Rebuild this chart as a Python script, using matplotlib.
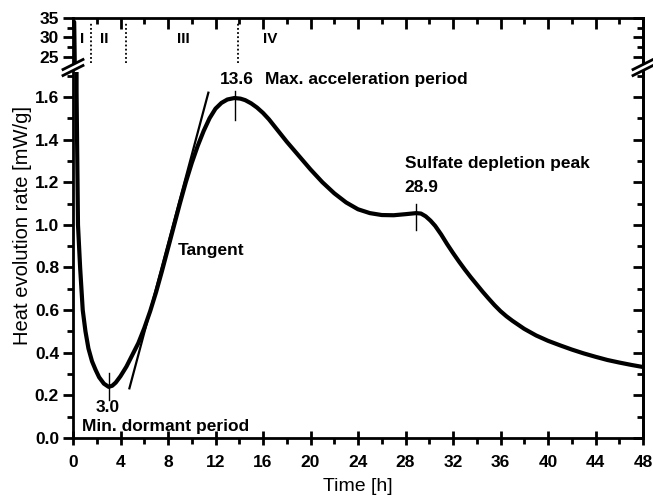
import matplotlib
matplotlib.use("Agg")
import matplotlib.pyplot as plt
from matplotlib.ticker import MultipleLocator
from matplotlib.lines import Line2D

plt.rcParams['font.family'] = ['Liberation Sans', 'DejaVu Sans']

# ---- data ----
time_h = [0.1, 0.2, 0.3, 0.42, 0.6, 0.82, 1.05, 1.3, 1.6, 1.9, 2.2, 2.6, 3.0, 3.3, 3.6,
          4.0, 4.5, 5.0, 5.5, 6.0, 6.5, 7.0, 7.5, 8.0, 8.5, 9.0, 9.5, 10.0, 10.5, 11.0,
          11.5, 12.0, 12.5, 13.0, 13.6, 14.1, 14.5, 15.0, 15.5, 16.0, 16.5, 17.0, 17.5,
          18.0, 19.0, 20.0, 21.0, 22.0, 23.0, 24.0, 25.0, 26.0, 27.0, 28.0, 28.9,
          29.3, 29.7, 30.1, 30.5, 31.0, 31.5, 32.0, 32.5, 33.0, 33.5, 34.0, 34.5,
          35.0, 35.5, 36.0, 36.5, 37.0, 38.0, 39.0, 40.0, 41.0, 42.0, 43.0, 44.0,
          45.0, 46.0, 47.0, 48.0]
heat = [34.0, 12.0, 1.62, 1.0, 0.80, 0.60, 0.50, 0.42, 0.36, 0.32, 0.285, 0.255, 0.24,
        0.245, 0.26, 0.29, 0.335, 0.39, 0.445, 0.515, 0.595, 0.685, 0.785, 0.89, 0.995,
        1.10, 1.20, 1.29, 1.37, 1.44, 1.50, 1.545, 1.572, 1.588, 1.595, 1.592, 1.585,
        1.57, 1.55, 1.525, 1.495, 1.46, 1.425, 1.39, 1.325, 1.26, 1.20, 1.148, 1.105,
        1.073, 1.055, 1.046, 1.045, 1.05, 1.055, 1.053, 1.04, 1.02, 0.995, 0.955, 0.91,
        0.868, 0.828, 0.79, 0.754, 0.72, 0.686, 0.654, 0.623, 0.595, 0.571, 0.55, 0.512,
        0.481, 0.456, 0.435, 0.415, 0.397, 0.381, 0.366, 0.354, 0.343, 0.333]

tangent_t = [4.75, 11.4]
tangent_v = [0.233, 1.62]

mark_t = [3.0, 13.6, 28.9]
mark_lo = [0.178, 1.49, 0.975]
mark_hi = [0.305, 1.63, 1.10]

period_bounds = [1.5, 4.45, 13.9]
period_labels = ['I', 'II', 'III', 'IV']
period_label_t = [0.73, 2.6, 9.3, 16.6]

lower_ylim = (0, 1.717)
upper_ylim = (23.46, 35)
xlim = (0, 48)

# ---- layout ----
W, H = 653, 498
fig = plt.figure(figsize=(W / 100, H / 100), dpi=100)
L, R = 73, 643
ax_top = fig.add_axes([L / W, 1 - 63 / H, (R - L) / W, (63 - 18) / H])
ax = fig.add_axes([L / W, 1 - 438 / H, (R - L) / W, (438 - 72) / H])

lw_sp = 2.0
tick_font = dict(fontsize=12.5, fontweight='bold')

for a in (ax, ax_top):
    a.plot(time_h, heat, color='black', lw=3.0, solid_joinstyle='round',
           solid_capstyle='round', zorder=3)
    a.set_xlim(*xlim)
    for s in a.spines.values():
        s.set_linewidth(lw_sp)
    a.xaxis.set_major_locator(MultipleLocator(4))
    a.xaxis.set_minor_locator(MultipleLocator(2))

ax.set_ylim(*lower_ylim)
ax_top.set_ylim(*upper_ylim)
ax.spines['top'].set_visible(False)
ax_top.spines['bottom'].set_visible(False)

# lower axis ticks
ax.yaxis.set_major_locator(MultipleLocator(0.2))
ax.yaxis.set_minor_locator(MultipleLocator(0.1))
ax.tick_params(axis='x', which='major', direction='inout', length=10, width=2,
               top=False, pad=7)
ax.tick_params(axis='x', which='minor', direction='out', length=4, width=2, top=False)
ax.tick_params(axis='y', which='major', direction='out', length=7, width=2,
               right=False, pad=3)
ax.tick_params(axis='y', which='minor', direction='out', length=4, width=2, right=False)
ax.set_xticks(range(0, 49, 4))
ax.set_xticklabels([str(v) for v in range(0, 49, 4)], **tick_font)
ax.set_yticks([round(0.2 * i, 1) for i in range(9)])
ax.set_yticklabels([f"{0.2 * i:.1f}" for i in range(9)], **tick_font)

sec = ax.secondary_yaxis('right')
sec.yaxis.set_major_locator(MultipleLocator(0.2))
sec.yaxis.set_minor_locator(MultipleLocator(0.1))
sec.tick_params(which='major', direction='in', length=7, width=2, labelright=False)
sec.tick_params(which='minor', direction='in', length=4, width=2)
sec.spines['right'].set_linewidth(lw_sp)

# upper axis ticks
ax_top.tick_params(axis='x', which='major', direction='in', length=8, width=2,
                   bottom=False, top=True, labelbottom=False, labeltop=False)
ax_top.tick_params(axis='x', which='minor', direction='in', length=4, width=2,
                   bottom=False, top=True)
ax_top.yaxis.set_major_locator(MultipleLocator(5))
ax_top.yaxis.set_minor_locator(MultipleLocator(2.5))
ax_top.tick_params(axis='y', which='major', direction='out', length=7, width=2,
                   right=False, pad=3)
ax_top.tick_params(axis='y', which='minor', direction='out', length=4, width=2,
                   right=False)
ax_top.set_yticks([25, 30, 35])
ax_top.set_yticklabels(['25', '30', '35'], **tick_font)
sec2 = ax_top.secondary_yaxis('right')
sec2.yaxis.set_major_locator(MultipleLocator(5))
sec2.yaxis.set_minor_locator(MultipleLocator(2.5))
sec2.tick_params(which='major', direction='in', length=7, width=2, labelright=False)
sec2.tick_params(which='minor', direction='in', length=4, width=2)
sec2.spines['right'].set_linewidth(lw_sp)

# period boundaries and labels
for b in period_bounds:
    ax_top.plot([b, b], [23.5, 34.0], color='black', lw=1.3, ls=(0, (1, 1.3)))
for lab, t in zip(period_labels, period_label_t):
    ax_top.text(t, 29.6, lab, ha='center', va='center', fontsize=11, fontweight='bold')

# tangent
ax.plot(tangent_t, tangent_v, color='black', lw=1.6, zorder=4)

# marks
for t, lo, hi in zip(mark_t, mark_lo, mark_hi):
    ax.plot([t, t], [lo, hi], color='black', lw=1.0, zorder=4)

ann = dict(fontsize=12.5, fontweight='bold', va='center')
ax.text(13.8, 1.680, '13.6', ha='center', **ann)
ax.text(16.17, 1.680, 'Max. acceleration period', ha='left', **ann)
ax.text(27.96, 1.29, 'Sulfate depletion peak', ha='left', **ann)
ax.text(29.3, 1.173, '28.9', ha='center', **ann)
ax.text(8.84, 0.878, 'Tangent', ha='left', **ann)
ax.text(2.9, 0.145, '3.0', ha='center', **ann)
ax.text(0.76, 0.056, 'Min. dormant period', ha='left', **ann)

ax.set_xlabel('Time [h]', fontsize=14, labelpad=6)
ax.set_ylabel('Heat evolution rate [mW/g]', fontsize=14.5)
ax.yaxis.set_label_coords(-0.072, 0.58)

# break marks
def px(x, y):
    return x / W, 1 - y / H
for xc in (L, R):
    for yc in (64.5, 70.5):
        x0, y0 = px(xc - 10, yc + 5)
        x1, y1 = px(xc + 10, yc - 5)
        fig.add_artist(Line2D([x0, x1], [y0, y1], color='black', lw=2.0))

fig.savefig('out.png', dpi=100)
